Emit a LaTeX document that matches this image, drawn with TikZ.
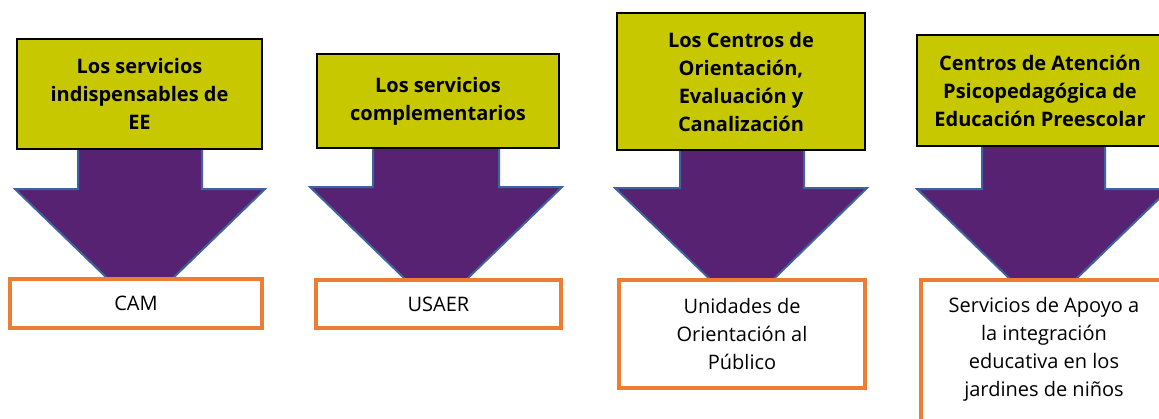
\documentclass[tikz,border=0pt]{standalone}
\usepackage{fontspec}
\setmainfont{Open Sans}
\definecolor{ylw}{HTML}{C8C800}
\definecolor{prp}{HTML}{572272}
\definecolor{bdr}{HTML}{3E64A0}
\definecolor{org}{HTML}{ED7D31}
\tikzset{
  ybox/.style={draw=black, line width=1.5pt, fill=ylw, align=center, inner sep=0pt,
    font=\fontsize{20}{28}\selectfont\bfseries},
  obox/.style={draw=org, line width=3.5pt, fill=white, inner sep=0pt},
  otext/.style={align=center, font=\fontsize{20}{28}\selectfont},
  barrow/.style={fill=prp, draw=bdr, line width=2pt, line join=miter}
}
\begin{document}
\begin{tikzpicture}[x=1pt,y=-1pt]
\useasboundingbox (0,0) rectangle (1159,418);
\clip (0,0) rectangle (1159,418);
\fill[white] (0,0) rectangle (1159,418);
% arrows
\draw[barrow] (78,140) -- (202,140) -- (202,189) -- (265,189) -- (140,310) -- (15,189) -- (78,189) -- cycle;
\draw[barrow] (373,140) -- (499,140) -- (499,187) -- (562,187) -- (436,309) -- (310,187) -- (373,187) -- cycle;
\draw[barrow] (680,140) -- (804,140) -- (804,188) -- (867,188) -- (742,310) -- (615,188) -- (680,188) -- cycle;
\draw[barrow] (982,140) -- (1105,140) -- (1105,189) -- (1169,189) -- (1043,311) -- (917,189) -- (982,189) -- cycle;
% yellow boxes
\node[ybox, minimum width=245, minimum height=110] (y1) at (139.5,94) {Los servicios\\indispensables de\\EE};
\node[ybox, minimum width=242, minimum height=94] (y2) at (438,101) {Los servicios\\complementarios};
\node[ybox, minimum width=248, minimum height=137] (y3) at (741,81.5) {Los Centros de\\Orientación,\\Evaluación y\\Canalización};
\node[ybox, minimum width=246, minimum height=111] (y4) at (1040,90.5) {Centros de Atención\\Psicopedagógica de\\Educación Preescolar};
% orange boxes
\node[obox, minimum width=252, minimum height=49] (o1) at (136,303.5) {};
\node[otext] (t1) at (o1.center) {CAM};
\node[obox, minimum width=245, minimum height=48] (o2) at (438.5,304) {};
\node[otext] (t2) at (o2.center) {USAER};
\node[obox, minimum width=246, minimum height=108] (o3) at (742,334) {};
\node[otext] (t3) at (o3.center) {Unidades de\\Orientación al\\Público};
\node[obox, minimum width=246, minimum height=150] (o4) at (1044,355) {};
\node[otext, anchor=north] (t4) at (1044,294) {Servicios de Apoyo a\\la integración\\educativa en los\\jardines de niños};
\end{tikzpicture}
\end{document}
